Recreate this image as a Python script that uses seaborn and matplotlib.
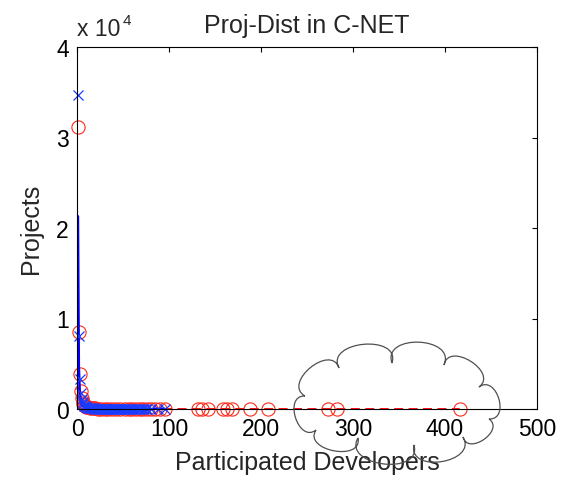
import numpy as np
import matplotlib
matplotlib.use("Agg")
import matplotlib.pyplot as plt
import matplotlib.transforms as mtransforms
from matplotlib.path import Path
from matplotlib.patches import PathPatch
import seaborn as sns

# Observed counts: projects per number of participated developers
blue_x = [1, 2, 3, 4, 5, 6, 7, 8, 9, 10, 11, 12, 13, 14, 15, 16, 17, 18, 19, 20,
          21, 22, 23, 24, 25, 26, 27, 28, 29, 30, 31, 32, 33, 34, 35, 36, 37, 38,
          39, 40, 41, 42, 43, 44, 45, 46, 47, 48, 49, 50, 51, 52, 53, 54, 55, 56,
          57, 58, 60, 62, 63, 65, 67, 68, 70, 72, 73, 75, 76, 80, 88, 96]
blue_y = [34700, 8100, 3300, 1750, 1050, 720, 510, 380, 290, 230, 185, 150, 125,
          105, 90, 78, 68, 60, 53, 47, 42, 38, 34, 31, 28, 26, 24, 22, 20, 19, 18,
          16, 15, 14, 13, 12, 12, 11, 10, 10, 9, 9, 8, 8, 8, 7, 7, 7, 6, 6, 6, 6,
          5, 5, 5, 5, 5, 4, 4, 4, 4, 3, 3, 3, 3, 3, 3, 2, 2, 2, 2, 1]

# Fitted curve for the blue series
blue_fit_x = [1, 2, 3, 4, 5, 6, 8, 10, 15, 20, 30, 40, 60, 80, 96]
blue_fit_y = [21300, 4650, 1900, 1010, 620, 415, 220, 135, 55, 29, 12, 6.5, 2.7,
              1.5, 1]

# Second series (red circles)
red_x = [1, 2, 3, 4, 5, 6, 7, 8, 9, 10, 12, 14, 16, 18, 20, 23, 26, 30, 34, 38,
         42, 47, 52, 56, 60, 64, 68, 72, 76, 80, 85, 90, 96, 131, 136, 142, 159,
         163, 168, 188, 208, 273, 283, 416]
red_y = [31200, 8500, 3900, 2000, 1250, 800, 560, 420, 320, 250, 170, 125, 95,
         75, 60, 45, 35, 27, 21, 17, 14, 11, 9, 8, 7, 6, 5, 5, 4, 4, 3, 3, 3, 1,
         1, 1, 1, 1, 1, 1, 1, 1, 1, 1]

# Fitted curve for the red series
red_fit_x = [1, 2, 3, 5, 10, 20, 50, 100, 200, 300, 416]
red_fit_y = [12000, 2600, 1050, 350, 75, 16, 2.5, 0.6, 0.1, 0.05, 0.02]

x_ticks = [0, 100, 200, 300, 400, 500]
y_ticks = [0, 10000, 20000, 30000, 40000]
y_tick_labels = ["0", "1", "2", "3", "4"]

sns.set_style("white")
plt.rcParams["font.family"] = ["Liberation Sans", "DejaVu Sans"]

W, H = 561, 481
fig = plt.figure(figsize=(W / 100, H / 100), dpi=100)
ax = fig.add_axes([77 / W, 1 - 410 / H, (537 - 77) / W, (410 - 48) / H])

sns.lineplot(x=red_fit_x, y=red_fit_y, ax=ax, estimator=None, sort=False,
             color="#ff0000", linestyle=(0, (5, 3)), linewidth=1.3)
sns.lineplot(x=red_x, y=red_y, ax=ax, estimator=None, sort=False,
             linestyle="", marker="o", markersize=9.5, markerfacecolor="none",
             markeredgecolor="#ff2a1a", markeredgewidth=0.8, clip_on=False)
sns.lineplot(x=blue_fit_x, y=blue_fit_y, ax=ax, estimator=None, sort=False,
             color="#0000ff", linewidth=1.8)
sns.lineplot(x=blue_x, y=blue_y, ax=ax, estimator=None, sort=False,
             linestyle="", marker="x", markersize=7, markeredgecolor="#1a3cff",
             markeredgewidth=0.9, clip_on=False)

ax.set_xlim(0, 500)
ax.set_ylim(0, 40000)
ax.set_xticks(x_ticks)
ax.set_xticklabels([str(v) for v in x_ticks])
ax.set_yticks(y_ticks)
ax.set_yticklabels(y_tick_labels)
ax.tick_params(direction="in", length=3.5, width=0.8, colors="black",
               labelsize=16.5, pad=6, top=True, right=True)
for side in ["left", "right", "top", "bottom"]:
    ax.spines[side].set_visible(True)
    ax.spines[side].set_color("black")
    ax.spines[side].set_linewidth(0.8)

ax.set_title("Proj-Dist in C-NET", fontsize=18, pad=11)
ax.set_xlabel("Participated Developers", fontsize=18, labelpad=7)
ax.set_ylabel("Projects", fontsize=18, labelpad=9)

# Exponent annotation for the y axis
fig.text(77 / W, 1 - 36 / H, "x 10", fontsize=16.5, ha="left", va="baseline")
fig.text(122.5 / W, 1 - 25 / H, "4", fontsize=11, ha="left", va="baseline")

# Cloud callout outline, drawn in pixel coordinates
pix = mtransforms.Affine2D().scale(1 / W, -1 / H).translate(0, 1) + fig.transFigure
notches = np.array([(305, 397), (339, 369), (392, 364), (444, 366), (479, 388),
                    (489, 420), (463, 438), (414, 446), (358, 439), (316, 431)],
                   dtype=float)
bulge = [0.42, 0.4, 0.42, 0.42, 0.46, 0.44, 0.42, 0.4, 0.4, 0.44]
center = np.array([399.0, 405.0])
verts, codes = [tuple(notches[0])], [Path.MOVETO]
for i in range(len(notches)):
    p0 = notches[i]
    p1 = notches[(i + 1) % len(notches)]
    d = p1 - p0
    n = np.array([d[1], -d[0]]) / np.hypot(*d)
    if np.dot(n, (p0 + p1) / 2 - center) < 0:
        n = -n
    h = bulge[i] * np.hypot(*d)
    c1 = p0 + 4 / 3 * h * n - 0.22 * d
    c2 = p1 + 4 / 3 * h * n + 0.22 * d
    verts += [tuple(c1), tuple(c2), tuple(p1)]
    codes += [Path.CURVE4] * 3
cloud = PathPatch(Path(verts, codes), transform=pix, facecolor="none",
                  edgecolor="#505050", linewidth=0.9)
fig.add_artist(cloud)

fig.savefig("out.png", dpi=100)
